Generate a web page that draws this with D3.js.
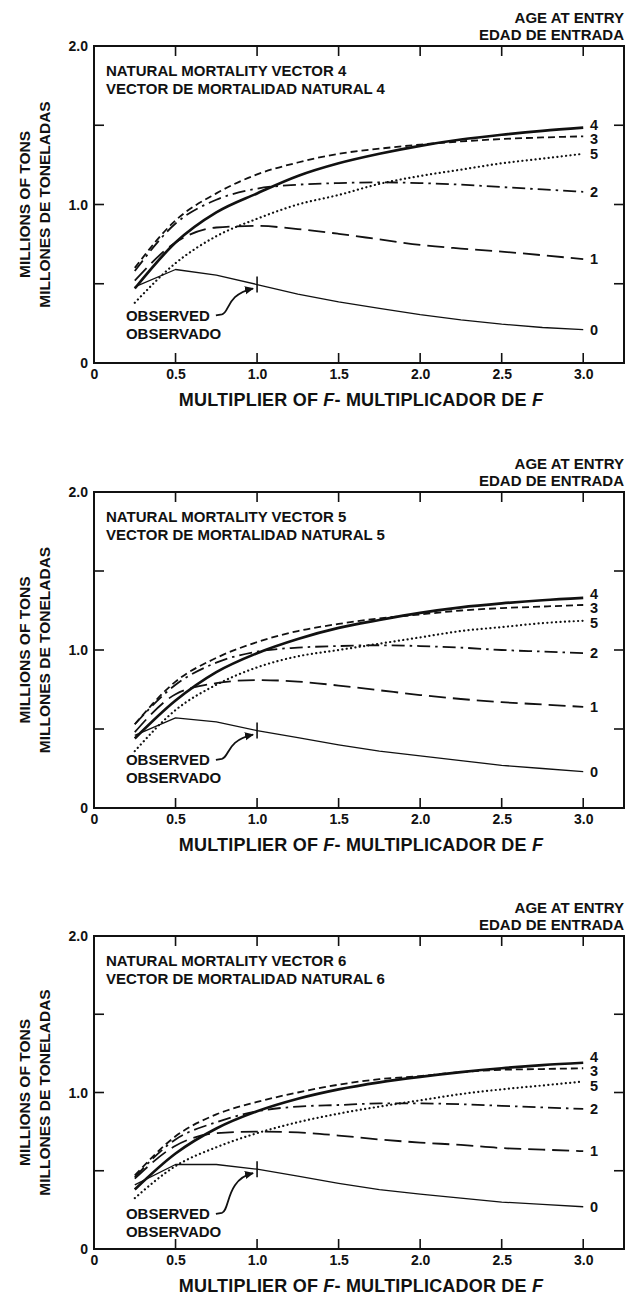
<!DOCTYPE html>
<html><head><meta charset="utf-8">
<script src="https://cdn.jsdelivr.net/npm/d3@7"></script>
<style>
body{margin:0;background:#fff}
svg{display:block}
text{font-family:"Liberation Sans",Arial,Helvetica,sans-serif;font-weight:bold;fill:#111}
</style>
</head><body>
<svg id="chart" width="630" height="1297"></svg>
<script>
// ---------------- DATA ----------------
const multipliers = [0.25, 0.5, 0.75, 1.0, 1.25, 1.5, 1.75, 2.0, 2.25, 2.5, 2.75, 3.0];
const ages = ["0", "1", "2", "3", "4", "5"];
const vectors = ["4", "5", "6"];
const xTicks = [0, 0.5, 1.0, 1.5, 2.0, 2.5, 3.0];
const xTickLabels = ["0", "0.5", "1.0", "1.5", "2.0", "2.5", "3.0"];
const yTicks = [0, 0.5, 1.0, 1.5, 2.0];
const yTickLabels = ["0", "", "1.0", "", "2.0"];
const observedMultiplier = 1.0;

// Natural mortality vector 4
const v4_age0 = [0.48, 0.59, 0.555, 0.495, 0.435, 0.385, 0.345, 0.305, 0.272, 0.245, 0.224, 0.21];
const v4_age1 = [0.52, 0.76, 0.855, 0.865, 0.845, 0.815, 0.78, 0.745, 0.722, 0.703, 0.68, 0.655];
const v4_age2 = [0.58, 0.88, 1.03, 1.10, 1.125, 1.135, 1.14, 1.135, 1.125, 1.11, 1.095, 1.08];
const v4_age3 = [0.60, 0.90, 1.07, 1.19, 1.265, 1.32, 1.352, 1.378, 1.398, 1.413, 1.423, 1.43];
const v4_age4 = [0.47, 0.76, 0.95, 1.07, 1.18, 1.26, 1.32, 1.37, 1.41, 1.44, 1.465, 1.485];
const v4_age5 = [0.38, 0.63, 0.80, 0.91, 1.00, 1.06, 1.13, 1.18, 1.22, 1.26, 1.29, 1.32];

// Natural mortality vector 5
const v5_age0 = [0.46, 0.57, 0.545, 0.49, 0.445, 0.40, 0.36, 0.33, 0.30, 0.27, 0.25, 0.23];
const v5_age1 = [0.48, 0.72, 0.79, 0.81, 0.80, 0.775, 0.745, 0.715, 0.69, 0.67, 0.655, 0.64];
const v5_age2 = [0.53, 0.78, 0.92, 0.99, 1.015, 1.025, 1.03, 1.025, 1.015, 1.0, 0.99, 0.98];
const v5_age3 = [0.53, 0.80, 0.95, 1.05, 1.12, 1.165, 1.20, 1.225, 1.25, 1.265, 1.275, 1.285];
const v5_age4 = [0.44, 0.68, 0.86, 0.98, 1.07, 1.14, 1.19, 1.235, 1.27, 1.295, 1.315, 1.33];
const v5_age5 = [0.36, 0.62, 0.78, 0.89, 0.96, 1.00, 1.04, 1.08, 1.12, 1.145, 1.17, 1.185];

// Natural mortality vector 6
const v6_age0 = [0.41, 0.54, 0.54, 0.51, 0.465, 0.42, 0.38, 0.35, 0.325, 0.30, 0.285, 0.27];
const v6_age1 = [0.45, 0.66, 0.74, 0.75, 0.745, 0.725, 0.70, 0.68, 0.665, 0.645, 0.635, 0.625];
const v6_age2 = [0.46, 0.70, 0.81, 0.88, 0.91, 0.92, 0.93, 0.93, 0.925, 0.915, 0.905, 0.895];
const v6_age3 = [0.47, 0.72, 0.86, 0.94, 1.00, 1.05, 1.085, 1.105, 1.13, 1.145, 1.15, 1.155];
const v6_age4 = [0.38, 0.61, 0.77, 0.88, 0.96, 1.02, 1.065, 1.10, 1.13, 1.155, 1.175, 1.19];
const v6_age5 = [0.325, 0.53, 0.65, 0.74, 0.81, 0.865, 0.91, 0.95, 0.99, 1.02, 1.045, 1.07];

const panelSeries = [
  [v4_age0, v4_age1, v4_age2, v4_age3, v4_age4, v4_age5],
  [v5_age0, v5_age1, v5_age2, v5_age3, v5_age4, v5_age5],
  [v6_age0, v6_age1, v6_age2, v6_age3, v6_age4, v6_age5]
];

// ---------------- LAYOUT / STYLE ----------------
const plotLeft = 94, plotRight = 624;
const panelTops = [46, 492, 936];
const panelBottoms = [363, 808, 1249];
const observedTextY = [0.30, 0.305, 0.225];   // annotation placement (value units)
const observedTextX = 0.196;

const lineStyle = {
  "0": {w: 1.3, dash: null, cap: "butt"},
  "1": {w: 1.8, dash: "17,7", cap: "butt"},
  "2": {w: 1.8, dash: "13,5,2.5,5", cap: "butt"},
  "3": {w: 1.8, dash: "7,4", cap: "butt"},
  "4": {w: 2.7, dash: null, cap: "butt"},
  "5": {w: 2.2, dash: "0.1,4.3", cap: "round"}
};
const drawOrder = ["5", "1", "2", "3", "4", "0"];

const svg = d3.select("#chart");
const defs = svg.append("defs");
defs.append("marker").attr("id", "arrow").attr("viewBox", "0 0 10 10")
  .attr("refX", 9).attr("refY", 5).attr("markerWidth", 9).attr("markerHeight", 9)
  .attr("markerUnits", "userSpaceOnUse").attr("orient", "auto")
  .append("path").attr("d", "M0,0.5 L10,5 L0,9.5 Z").attr("fill", "#111");

const x = d3.scaleLinear().domain([0, 3.25]).range([plotLeft, plotRight]);

vectors.forEach((vec, pi) => {
  const top = panelTops[pi], bottom = panelBottoms[pi];
  const y = d3.scaleLinear().domain([0, 2]).range([bottom, top]);
  const g = svg.append("g");

  // header
  g.append("text").attr("x", 624).attr("y", top - 23).attr("text-anchor", "end")
    .attr("font-size", 15).text("AGE AT ENTRY");
  g.append("text").attr("x", 624).attr("y", top - 6.5).attr("text-anchor", "end")
    .attr("font-size", 15).text("EDAD DE ENTRADA");

  // frame
  g.append("rect").attr("x", plotLeft).attr("y", top).attr("width", plotRight - plotLeft)
    .attr("height", bottom - top).attr("fill", "none").attr("stroke", "#111").attr("stroke-width", 2);

  // axes with inward ticks
  const tickX = xTicks.filter(d => d > 0);
  const tickY = yTicks.filter(d => d > 0 && d < 2);
  const bottomAxis = d3.axisBottom(x).tickValues(xTicks).tickSize(0).tickPadding(0)
    .tickFormat((d, i) => xTickLabels[i]);
  const ga = g.append("g").attr("transform", `translate(0,${bottom})`).call(bottomAxis);
  ga.select(".domain").remove();
  ga.selectAll("text").attr("font-size", 14).attr("font-family", null).attr("dy", null)
    .attr("y", 15.5).attr("fill", "#111");
  const leftAxis = d3.axisLeft(y).tickValues(yTicks).tickSize(0).tickPadding(0)
    .tickFormat((d, i) => yTickLabels[i]);
  const gl = g.append("g").attr("transform", `translate(${plotLeft - 6},0)`).call(leftAxis);
  gl.select(".domain").remove();
  gl.selectAll("text").attr("font-size", 14).attr("font-family", null).attr("dy", "0.35em")
    .attr("x", 0).attr("fill", "#111");

  const tl = 10;
  g.selectAll(".tb").data(tickX).join("line").attr("x1", d => x(d)).attr("x2", d => x(d))
    .attr("y1", bottom).attr("y2", bottom - tl).attr("stroke", "#111").attr("stroke-width", 1.6);
  g.selectAll(".tt").data(tickX).join("line").attr("x1", d => x(d)).attr("x2", d => x(d))
    .attr("y1", top).attr("y2", top + tl).attr("stroke", "#111").attr("stroke-width", 1.6);
  g.selectAll(".tl").data(tickY).join("line").attr("x1", plotLeft).attr("x2", plotLeft + tl)
    .attr("y1", d => y(d)).attr("y2", d => y(d)).attr("stroke", "#111").attr("stroke-width", 1.6);
  g.selectAll(".tr").data(tickY).join("line").attr("x1", plotRight).attr("x2", plotRight - tl)
    .attr("y1", d => y(d)).attr("y2", d => y(d)).attr("stroke", "#111").attr("stroke-width", 1.6);

  // titles
  g.append("text").attr("x", plotLeft + 12).attr("y", top + 30).attr("font-size", 15)
    .text(`NATURAL MORTALITY VECTOR ${vec}`);
  g.append("text").attr("x", plotLeft + 12).attr("y", top + 47.5).attr("font-size", 15)
    .text(`VECTOR DE MORTALIDAD NATURAL ${vec}`);

  const xt = g.append("text").attr("x", (plotLeft + plotRight) / 2 + 2).attr("y", bottom + 43)
    .attr("text-anchor", "middle").attr("font-size", 18).attr("letter-spacing", 0.2);
  xt.append("tspan").text("MULTIPLIER OF ");
  xt.append("tspan").attr("font-style", "italic").text("F");
  xt.append("tspan").text("- MULTIPLICADOR DE ");
  xt.append("tspan").attr("font-style", "italic").text("F");

  const cy = (top + bottom) / 2;
  g.append("text").attr("transform", `translate(30,${cy}) rotate(-90)`).attr("text-anchor", "middle")
    .attr("font-size", 15.5).text("MILLIONS OF TONS");
  g.append("text").attr("transform", `translate(50,${cy}) rotate(-90)`).attr("text-anchor", "middle")
    .attr("font-size", 15.5).text("MILLONES DE TONELADAS");

  // lines
  const series = panelSeries[pi];
  drawOrder.forEach(age => {
    const ai = ages.indexOf(age);
    const vals = series[ai];
    const st = lineStyle[age];
    const line = d3.line().x((d, i) => x(multipliers[i])).y(d => y(d))
      .curve(age === "0" ? d3.curveLinear : d3.curveMonotoneX);
    g.append("path").attr("d", line(vals)).attr("fill", "none").attr("stroke", "#111")
      .attr("stroke-width", st.w).attr("stroke-dasharray", st.dash).attr("stroke-linecap", st.cap)
      .attr("stroke-linejoin", "round");
  });

  // end labels with collision avoidance
  const labs = ages.map((a, ai) => ({a, y: y(series[ai][series[ai].length - 1])}));
  labs.sort((p, q) => p.y - q.y);
  for (let k = 0; k < 60; k++) {
    for (let i = 1; i < labs.length; i++) {
      const gap = labs[i].y - labs[i - 1].y;
      if (gap < 14.5) { const d = (14.5 - gap) / 2; labs[i - 1].y -= d; labs[i].y += d; }
    }
  }
  g.selectAll(".lab").data(labs).join("text").attr("x", 590).attr("y", d => d.y + 5.2)
    .attr("font-size", 14.5).text(d => d.a);

  // observed marker
  const obsIdx = multipliers.indexOf(observedMultiplier);
  const ox = x(observedMultiplier), oy = y(series[0][obsIdx]);
  g.append("line").attr("x1", ox).attr("x2", ox).attr("y1", oy - 8).attr("y2", oy + 8)
    .attr("stroke", "#111").attr("stroke-width", 1.6);

  const tx = x(observedTextX), ty = y(observedTextY[pi]);
  const t1 = g.append("text").attr("x", tx).attr("y", ty + 5.5).attr("font-size", 15).text("OBSERVED");
  g.append("text").attr("x", tx).attr("y", ty + 23.5).attr("font-size", 15).text("OBSERVADO");
  const tw = t1.node().getComputedTextLength();
  const sx = tx + tw + 6, sy = ty;
  const ex = ox - 4, ey = oy + 4;
  g.append("path")
    .attr("d", `M${sx},${sy} L${sx + 6},${sy - 1} C${sx + 14},${sy - 3} ${sx + 10},${ey + 6} ${ex},${ey}`)
    .attr("fill", "none").attr("stroke", "#111").attr("stroke-width", 1.8)
    .attr("marker-end", "url(#arrow)");
});
</script>
</body></html>
